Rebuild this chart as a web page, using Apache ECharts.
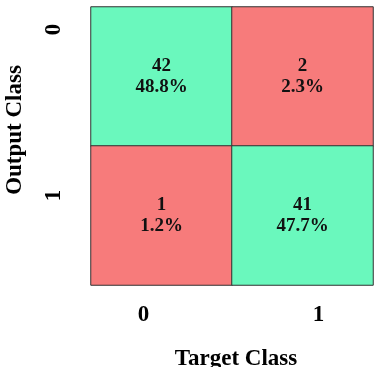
<!DOCTYPE html>
<html>
<head>
<meta charset="utf-8">
<script src="https://cdn.jsdelivr.net/npm/echarts@6/dist/echarts.min.js"></script>
<style>
html, body { margin: 0; padding: 0; background: #fff; }
#main { width: 383px; height: 367px; }
</style>
</head>
<body>
<div id="main"></div>
<script>
// confusion matrix values
var targetClasses = ['0', '1'];
var outputClasses = ['0', '1'];
var counts = [
	[42, 2],   // output 0 : target 0, target 1
	[1, 41]    // output 1 : target 0, target 1
];
var percents = [
	['48.8%', '2.3%'],
	['1.2%', '47.7%']
];

var GOOD = '#6af8bd',
	BAD = '#f77b7b',
	FONT = '"Liberation Serif", "Times New Roman", serif';

var cells = [];
for (var r = 0; r < outputClasses.length; r++) {
	for (var c = 0; c < targetClasses.length; c++) {
		cells.push({
			value: [c, r, counts[r][c]],
			pct: percents[r][c],
			itemStyle: { color: r == c ? GOOD : BAD }
		});
	}
}

var chart = echarts.init(document.getElementById('main'));
chart.setOption({
	animation: false,
	grid: { left: 91, right: 10, top: 7, bottom: 82, outerBoundsMode: 'none', containLabel: false },
	xAxis: {
		type: 'category',
		data: targetClasses,
		name: 'Target Class',
		nameLocation: 'middle',
		nameGap: 63,
		nameTextStyle: { fontFamily: FONT, fontWeight: 'bold', fontSize: 23, color: '#000', padding: [0, 0, 0, 8] },
		axisLine: { show: false },
		axisTick: { show: false },
		splitLine: { show: false },
		splitArea: { show: false },
		axisLabel: {
			margin: 19,
			formatter: function(v) {
				return v == '0' ? '{a|0}' : '{b|1}';
			},
			rich: {
				a: { fontFamily: FONT, fontWeight: 'bold', fontSize: 23, color: '#000', padding: [0, 36, 0, 0] },
				b: { fontFamily: FONT, fontWeight: 'bold', fontSize: 23, color: '#000', padding: [0, 0, 0, 32] }
			}
		}
	},
	yAxis: {
		type: 'category',
		data: outputClasses,
		inverse: true,
		name: 'Output Class',
		nameLocation: 'middle',
		nameGap: 64,
		nameTextStyle: { fontFamily: FONT, fontWeight: 'bold', fontSize: 23, color: '#000', padding: [0, 0, 0, 32] },
		axisLine: { show: false },
		axisTick: { show: false },
		splitLine: { show: false },
		splitArea: { show: false },
		axisLabel: {
			rotate: 90,
			margin: 25,
			formatter: function(v) {
				return v == '0' ? '{a|0}' : '{b|1}';
			},
			rich: {
				a: { fontFamily: FONT, fontWeight: 'bold', fontSize: 23, color: '#000', padding: [0, 0, 0, 94] },
				b: { fontFamily: FONT, fontWeight: 'bold', fontSize: 23, color: '#000', padding: [0, 0, 0, 40] }
			}
		}
	},
	series: [{
		type: 'heatmap',
		data: cells,
		itemStyle: { borderColor: '#333', borderWidth: 1 },
		label: {
			show: true,
			fontFamily: FONT,
			fontWeight: 'bold',
			fontSize: 19,
			lineHeight: 21,
			color: '#111',
			padding: [4, 0, 0, 0],
			formatter: function(p) {
				return p.value[2] + '\n' + p.data.pct;
			}
		},
		emphasis: { disabled: true }
	}]
});
</script>
</body>
</html>
